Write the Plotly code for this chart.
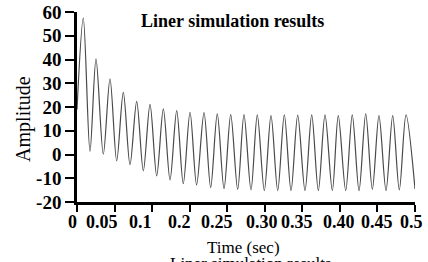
import numpy as np
import plotly.graph_objects as go

# ---- data ----
peak_t = [0.0093, 0.0281, 0.0488, 0.0685, 0.0883, 0.1080, 0.1277, 0.1475, 0.1672,
          0.1879, 0.2075, 0.2274, 0.2470, 0.2667, 0.2870, 0.3067, 0.3265, 0.3472,
          0.3669, 0.3865, 0.4072, 0.4271, 0.4467, 0.4670, 0.4867]
peak_v = [57.4, 40.3, 31.9, 26.2, 22.4, 21.1, 19.2, 18.5, 17.8, 17.6, 17.1, 16.8,
          16.8, 16.7, 16.4, 16.7, 16.6, 16.7, 16.7, 16.4, 16.7, 17.1, 16.4, 16.4, 16.7]
trough_t = [0.0192, 0.0389, 0.0587, 0.0784, 0.0981, 0.1179, 0.1376, 0.1572, 0.1769,
            0.1977, 0.2175, 0.2377, 0.2574, 0.2771, 0.2969, 0.3166, 0.3373, 0.3570,
            0.3777, 0.3975, 0.4172, 0.4369, 0.4571, 0.4768]
trough_v = [1.3, 0.1, -2.7, -4.3, -6.9, -9.0, -10.7, -12.3, -12.8, -13.9, -14.4, -14.7,
            -14.9, -15.2, -15.2, -15.2, -15.2, -15.2, -15.2, -15.2, -15.2, -14.7, -15.2, -14.9]
start_t, start_v = 0.0, 19.0
end_t, end_v = 0.5, -14.5

x_tick_labels = ["0", "0.05", "0.1", "0.2", "0.25", "0.30", "0.35", "0.40", "0.45", "0.5"]
y_ticks = [-20, -10, 0, 10, 20, 30, 40, 50, 60]

# ---- assemble the waveform ----
t = [start_t]
v = [start_v]
for i in range(len(peak_t)):
    t.append(peak_t[i]); v.append(peak_v[i])
    if i < len(trough_t):
        t.append(trough_t[i]); v.append(trough_v[i])
t.append(end_t); v.append(end_v)

SERIF = "Liberation Serif"

fig = go.Figure()
fig.add_trace(go.Scatter(x=t, y=v, mode="lines",
                         line=dict(color="#4a4a4a", width=1.2, shape="spline", smoothing=0.9),
                         showlegend=False, hoverinfo="skip"))

x_tickvals = list(np.linspace(0, 0.5, len(x_tick_labels)))
label_shift = [-5, -13, -12, -10, -10, -3, -5, -1, 0, -4]

annotations = []
for xv, lab, sh in zip(x_tickvals, x_tick_labels, label_shift):
    annotations.append(dict(x=xv, y=-0.105, xref="x", yref="paper", text=lab,
                            showarrow=False, xshift=sh, xanchor="center", yanchor="middle",
                            font=dict(family=SERIF, size=18, color="black", weight="bold")))

annotations += [
    dict(x=0.4615, y=0.953, xref="paper", yref="paper", text="Liner simulation results",
         showarrow=False, xanchor="center", yanchor="middle",
         font=dict(family=SERIF, size=18, color="black", weight="bold")),
    dict(x=-0.157, y=0.437, xref="paper", yref="paper", text="Amplitude", textangle=-90,
         showarrow=False, xanchor="center", yanchor="middle",
         font=dict(family=SERIF, size=20, color="black")),
    dict(x=0.494, y=-0.242, xref="paper", yref="paper", text="Time (sec)",
         showarrow=False, xanchor="center", yanchor="middle",
         font=dict(family=SERIF, size=17, color="black")),
    dict(x=0.512, y=-0.262, xref="paper", yref="paper", text="Liner simulation results",
         showarrow=False, xanchor="center", yanchor="top",
         font=dict(family=SERIF, size=17, color="black")),
]

fig.update_layout(
    width=428, height=262,
    margin=dict(l=77, r=13, t=12, b=60, autoexpand=False),
    paper_bgcolor="white", plot_bgcolor="white",
    annotations=annotations,
    xaxis=dict(range=[0, 0.5], tickmode="array", tickvals=x_tickvals, showticklabels=False,
               ticks="outside", ticklen=7, tickwidth=2, tickcolor="black",
               showline=True, linewidth=2.5, linecolor="black", automargin=False,
               showgrid=False, zeroline=False, fixedrange=True),
    yaxis=dict(range=[-20, 60], tickmode="array", tickvals=y_ticks,
               ticktext=[str(y) for y in y_ticks],
               ticks="outside", ticklen=9, tickwidth=2, tickcolor="black",
               showline=True, linewidth=2.5, linecolor="black", automargin=False,
               tickfont=dict(family=SERIF, size=19, color="black", weight="bold"),
               showgrid=False, zeroline=False, fixedrange=True),
)

fig.write_html("out.html", config={"displayModeBar": False},
               post_script="document.body.style.margin='0';document.body.style.overflow='hidden';")
